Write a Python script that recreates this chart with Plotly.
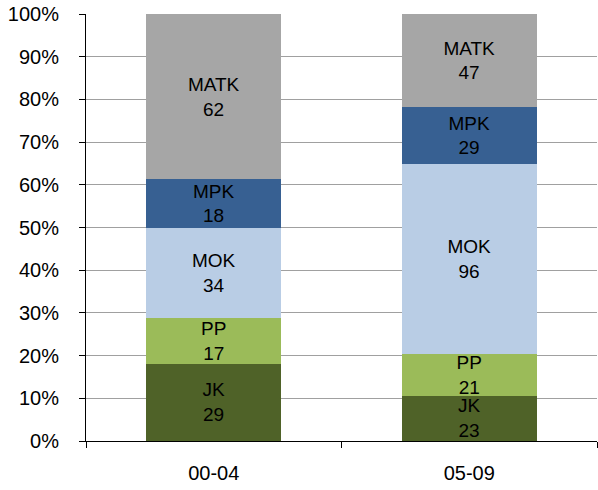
import plotly.graph_objects as go

# Publication counts per period, stacked to 100%
periods = ["00-04", "05-09"]
series_names = ["JK", "PP", "MOK", "MPK", "MATK"]
jk = [29, 23]
pp = [17, 21]
mok = [34, 96]
mpk = [18, 29]
matk = [62, 47]
colors = ["#4F6228", "#9BBB59", "#B9CDE5", "#376092", "#A6A6A6"]

fig = go.Figure()
for name, vals, col in zip(series_names, [jk, pp, mok, mpk, matk], colors):
    fig.add_trace(go.Bar(
        x=periods,
        y=vals,
        name=name,
        marker=dict(color=col, line=dict(width=0)),
        text=[f"{name}<br>{v}" for v in vals],
        textposition="inside",
        insidetextanchor="middle",
        textangle=0,
        constraintext="none",
        textfont=dict(family="Liberation Sans, Arial, sans-serif", size=19, color="black"),
        hoverinfo="skip",
    ))

fig.update_layout(
    barmode="stack",
    barnorm="percent",
    bargap=0.47,
    width=598,
    height=490,
    margin=dict(l=86, r=1, t=14, b=49),
    paper_bgcolor="white",
    plot_bgcolor="white",
    showlegend=False,
    font=dict(family="Liberation Sans, Arial, sans-serif", size=20, color="black"),
)
fig.update_yaxes(
    range=[0, 100],
    dtick=10,
    ticksuffix="%",
    showgrid=True,
    gridcolor="#A0A0A0",
    gridwidth=1,
    showline=True,
    linecolor="black",
    linewidth=1,
    ticks="outside",
    ticklen=6,
    tickcolor="black",
    ticklabelstandoff=16,
    zeroline=False,
)
fig.update_xaxes(
    type="category",
    showline=True,
    linecolor="black",
    linewidth=1,
    ticks="outside",
    ticklen=6,
    tickcolor="black",
    tickson="boundaries",
    ticklabelstandoff=14,
)

fig.write_html("out.html")
